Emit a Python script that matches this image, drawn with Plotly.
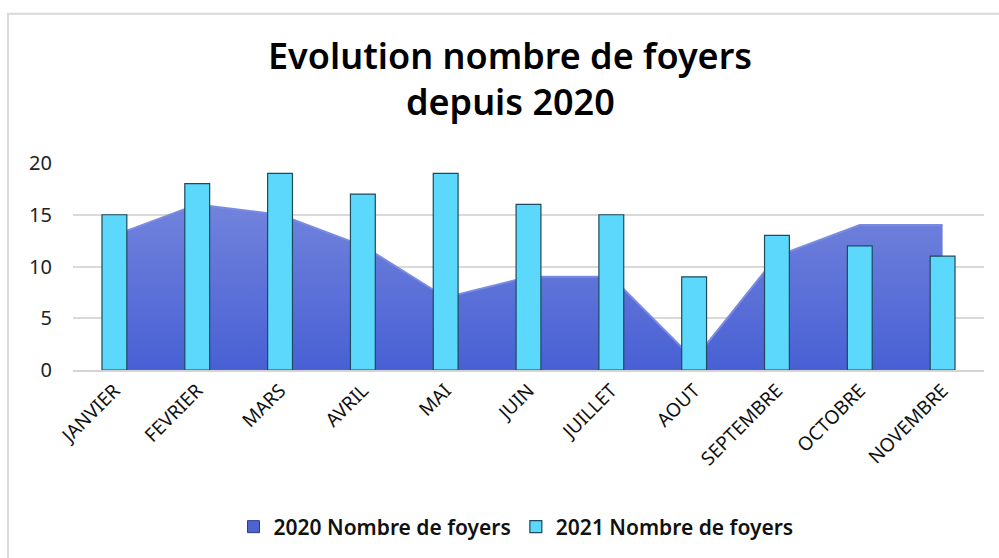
import plotly.graph_objects as go

mois = ["JANVIER", "FEVRIER", "MARS", "AVRIL", "MAI", "JUIN", "JUILLET",
        "AOUT", "SEPTEMBRE", "OCTOBRE", "NOVEMBRE"]
foyers_2020 = [13, 16, 15, 12, 7, 9, 9, 1, 11, 14, 14]
foyers_2021 = [15, 18, 19, 17, 19, 16, 15, 9, 13, 12, 11]
y_ticks = [0, 5, 10, 15, 20]

FONT = "Noto Sans"
C2020 = "#4d63d2"
C2021 = "#5cd8fc"

fig = go.Figure()

fig.add_trace(go.Scatter(
    x=mois, y=foyers_2020, name="2020 Nombre de foyers",
    mode="lines", fill="tozeroy", showlegend=False,
    line=dict(color="#7b8be0", width=2),
    fillgradient=dict(type="vertical",
                      colorscale=[[0, "#4860d4"], [1, "#7283dc"]]),
    xaxis="x", yaxis="y",
))
# legend entry for the 2020 area (square swatch)
fig.add_trace(go.Bar(
    x=[mois[0]], y=[None], name="2020 Nombre de foyers",
    marker=dict(color=C2020, line=dict(color="#2a3a8a", width=1)),
    xaxis="x", yaxis="y", showlegend=True,
))

fig.add_trace(go.Bar(
    x=mois, y=foyers_2021, name="2021 Nombre de foyers",
    marker=dict(color=C2021, line=dict(color="#1d4a5c", width=1.2)),
    width=0.3,
    xaxis="x2", yaxis="y2",
))

L, R, T, B = 73, 15, 163, 187
W, H = 999, 558
pw = W - L - R
ph = H - T - B

def px(x):
    return (x - L) / pw

def py(y):
    return (H - B - y) / ph

fig.update_layout(
    width=W, height=H,
    margin=dict(l=L, r=R, t=T, b=B, pad=0),
    paper_bgcolor="white", plot_bgcolor="white",
    showlegend=True,
    legend=dict(orientation="h", x=px(516), xanchor="center",
                y=py(527), yanchor="middle",
                font=dict(family=FONT, size=21, color="#111111", weight=600),
                itemwidth=30, traceorder="normal", tracegroupgap=0),
    xaxis=dict(range=[-0.5, 10.5], tickangle=-45,
               tickfont=dict(family=FONT, size=19, color="#111111"),
               showgrid=False, showline=True, linecolor="#d4d4d4", linewidth=2,
               ticks="", fixedrange=True),
    yaxis=dict(range=[0, 20], tickvals=y_ticks,
               tickfont=dict(family=FONT, size=20, color="#222222"),
               showgrid=True, gridcolor="#d9d9d9", gridwidth=1.5,
               zeroline=False, showline=False, ticks="", ticklabelstandoff=20),
    xaxis2=dict(range=[-0.5, 10.5], overlaying="x",
                showticklabels=False, showgrid=False, showline=False, ticks=""),
    yaxis2=dict(range=[0, 20], overlaying="y", showticklabels=False,
                showgrid=False, zeroline=False, showline=False, ticks=""),
    shapes=[dict(type="rect", xref="paper", yref="paper",
                 x0=px(8), x1=px(1010), y0=py(13), y1=py(575),
                 line=dict(color="#d9d9d9", width=2), fillcolor="rgba(0,0,0,0)",
                 layer="below")],
    annotations=[
        dict(text="Evolution nombre de foyers", xref="paper", yref="paper",
             x=px(510), y=py(55), xanchor="center", yanchor="middle",
             showarrow=False,
             font=dict(family=FONT, size=36, color="#000000", weight=600)),
        dict(text="depuis 2020", xref="paper", yref="paper",
             x=px(510), y=py(101), xanchor="center", yanchor="middle",
             showarrow=False,
             font=dict(family=FONT, size=36, color="#000000", weight=600)),
    ],
)

fig.write_html(
    "out.html",
    config={"displayModeBar": False},
    post_script="document.body.style.margin='0';document.body.style.overflow='hidden';",
)
